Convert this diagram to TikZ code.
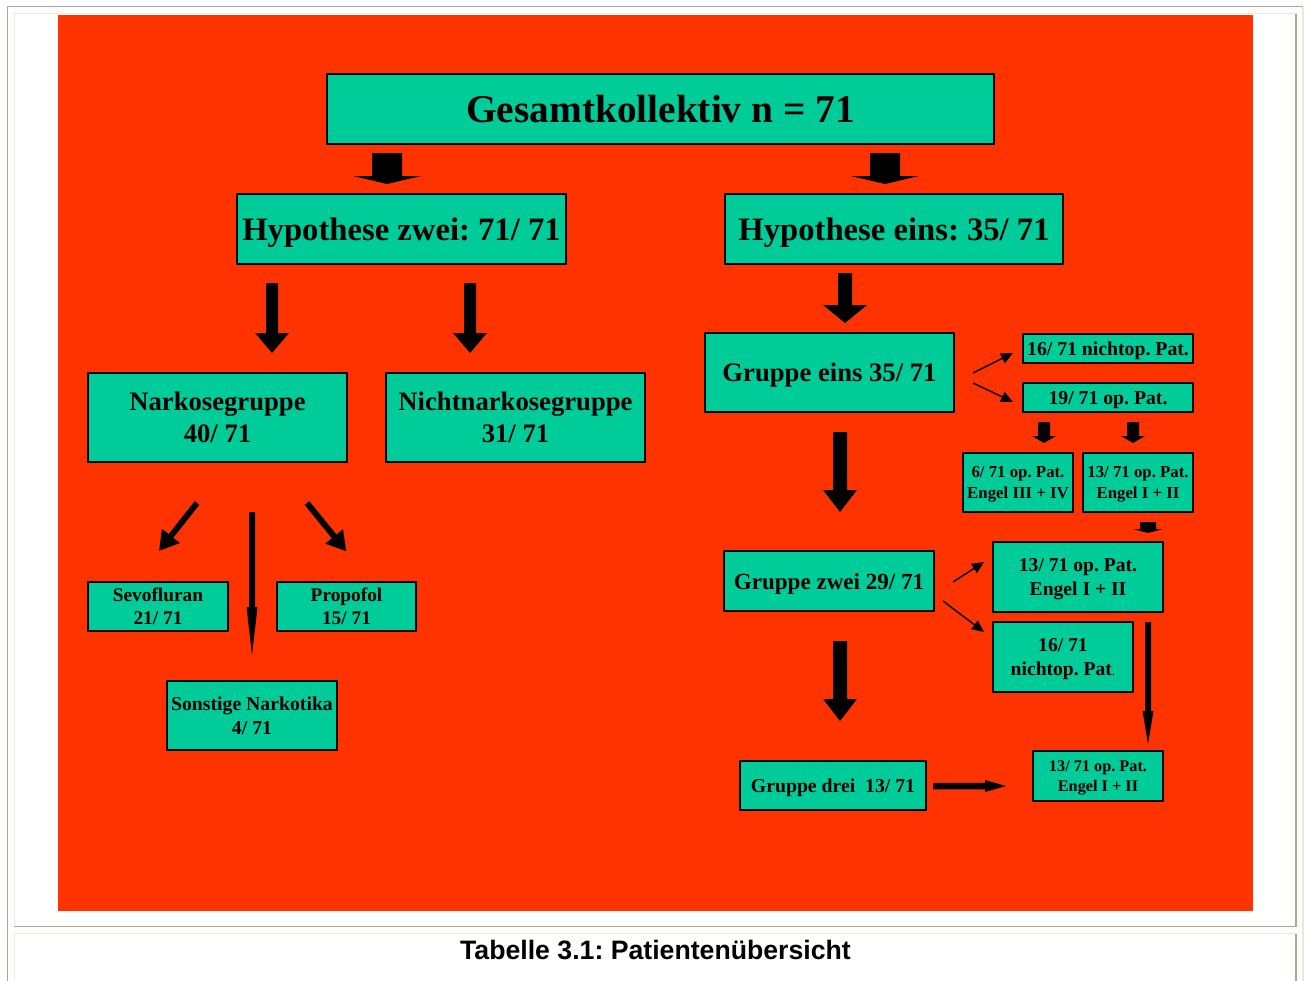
\documentclass[tikz,border=0pt]{standalone}
\usepackage{fontspec}
\setmainfont{Liberation Serif}
\newfontfamily\capfont{Liberation Sans}
\usetikzlibrary{arrows.meta}
\definecolor{bgred}{HTML}{FF3300}
\definecolor{boxteal}{HTML}{00CC99}
\definecolor{frgray}{HTML}{ACA899}
\definecolor{frlight}{HTML}{ECE9D8}
\frenchspacing
\newcommand\fs[2]{\bfseries\fontsize{#1}{#2}\selectfont}
\tikzset{
  box/.style={draw=black, line width=0.9pt, fill=boxteal, inner sep=0pt, align=center, text depth=-3pt},
  thinarr/.style={line width=1.1pt, -{Triangle[length=9pt,width=8pt]}},
  frameg/.style={draw=frgray, line width=1pt},
  framel/.style={draw=frlight, line width=1pt},
  pics/barrow/.style n args={4}{code={
    \fill[black] (0,-#2/2) -- (#1-#4,-#2/2) -- (#1-#4,-#3/2) -- (#1,0) -- (#1-#4,#3/2) -- (#1-#4,#2/2) -- (0,#2/2) -- cycle;
  }}
}
\begin{document}
\begin{tikzpicture}[x=0.75pt,y=-0.75pt]
\useasboundingbox (0,0) rectangle (1306,981);
% table frame
\draw[frameg] (7.5,981) -- (7.5,6.5) -- (1303,6.5);
\draw[framel] (1303,7) -- (1303,981);
\draw[framel] (14.7,927) -- (14.7,13.7) -- (1297,13.7);
\draw[frameg] (1296,13.7) -- (1296,926.5) -- (14,926.5);
\draw[framel] (14.7,981) -- (14.7,933.7) -- (1297,933.7);
\draw[frameg] (1296,934) -- (1296,981);
% red background
\fill[bgred] (58,15) rectangle (1253,911);

% nodes
\node[box, minimum width=500.25pt, minimum height=52.5pt, font=\fs{29.5}{35}] (gesamt) at (660.5,109) {Gesamtkollektiv n = 71};
\node[box, minimum width=246.75pt, minimum height=52.5pt, font=\fs{24.5}{29}] (hyp2) at (401.5,229) {Hypothese zwei: 71/ 71};
\node[box, minimum width=253.5pt, minimum height=52.5pt, font=\fs{24.5}{29}] (hyp1) at (894,229) {Hypothese eins: 35/ 71};
\node[box, minimum width=194.25pt, minimum height=66.75pt, font=\fs{20}{24}] (narko) at (217.5,417.5) {Narkosegruppe\\40/ 71};
\node[box, minimum width=194.25pt, minimum height=66.75pt, font=\fs{20}{24}] (nicht) at (515.5,417.5) {Nichtnarkosegruppe\\31/ 71};
\node[box, minimum width=105pt, minimum height=36.75pt, font=\fs{14.5}{17.5}] (sevo) at (158,606.5) {Sevofluran\\21/ 71};
\node[box, minimum width=104.25pt, minimum height=36.75pt, font=\fs{14.5}{17.5}] (propo) at (346.5,606.5) {Propofol\\15/ 71};
\node[box, minimum width=127.5pt, minimum height=51.75pt, font=\fs{14.8}{17.8}] (sonst) at (252,715.5) {Sonstige Narkotika\\4/ 71};

\node[box, minimum width=186.75pt, minimum height=59.25pt, font=\fs{20}{24}] (gr1) at (829.5,372.5) {Gruppe eins 35/ 71};
\node[box, minimum width=127.5pt, minimum height=21.75pt, font=\fs{14.8}{17.8}] (n16a) at (1108,348.5) {16/ 71 nichtop. Pat.};
\node[box, minimum width=127.5pt, minimum height=21.75pt, font=\fs{14.8}{17.8}] (op19) at (1108,397.5) {19/ 71 op. Pat.};
\node[box, minimum width=82.5pt, minimum height=44.25pt, font=\fs{12.6}{15.1}] (e34) at (1018,482.5) {6/ 71 op. Pat.\\Engel III + IV};
\node[box, minimum width=82.5pt, minimum height=44.25pt, font=\fs{12.6}{15.1}] (e12a) at (1138,482.5) {13/ 71 op. Pat.\\Engel I + II};

\node[box, minimum width=157.5pt, minimum height=45pt, font=\fs{17.3}{20.8}] (gr2) at (829,581) {Gruppe zwei 29/ 71};
\node[box, minimum width=127.5pt, minimum height=52.5pt, font=\fs{14.7}{17.6}] (e12b) at (1078,577) {13/ 71 op. Pat.\\Engel I + II};
\node[box, minimum width=105pt, minimum height=52.5pt, font=\fs{14.7}{17.6}] (n16b) at (1063,657) {16/ 71\\nichtop. Pat{\mdseries\fontsize{10}{12}\selectfont.}};

\node[box, minimum width=139.5pt, minimum height=36.75pt, font=\fs{14.8}{17.8}] (gr3) at (833,785.5) {Gruppe drei\ \ 13/ 71};
\node[box, minimum width=97.5pt, minimum height=37.5pt, font=\fs{12.2}{14.6}] (e12c) at (1098,776) {13/ 71 op. Pat.\\Engel I + II};

% block arrows
\coordinate (a1) at (387,153);
\coordinate (a2) at (885,153);
\coordinate (a3) at (272,283);
\coordinate (a4) at (470,283);
\coordinate (a5) at (845,273);
\coordinate (a6) at (840,432);
\coordinate (a7) at (840,641);
\coordinate (a8) at (1044,422);
\coordinate (a9) at (1133,422);
\coordinate (a10) at (1148,522);
\coordinate (a11) at (1148,622);
\coordinate (a12) at (933,786);
\coordinate (a13) at (252,512);
\coordinate (a14) at (197,503);
\coordinate (a15) at (307,503);
\pic[rotate=-90] at (a1) {barrow={31}{30}{68}{8}};
\pic[rotate=-90] at (a2) {barrow={31}{30}{68}{8}};
\pic[rotate=-90] at (a3) {barrow={70}{12}{34}{20}};
\pic[rotate=-90] at (a4) {barrow={70}{12}{34}{20}};
\pic[rotate=-90] at (a5) {barrow={50}{14}{44}{18}};
\pic[rotate=-90] at (a6) {barrow={80}{14}{34}{22}};
\pic[rotate=-90] at (a7) {barrow={80}{14}{34}{22}};
\pic[rotate=-90] at (a8) {barrow={21}{12}{24}{7}};
\pic[rotate=-90] at (a9) {barrow={21}{12}{24}{7}};
\pic[rotate=-90] at (a10) {barrow={11}{16}{30}{4}};
\pic[rotate=-90] at (a11) {barrow={122}{6}{11}{33}};
\pic at (a12) {barrow={73}{6.5}{12}{21}};
\pic[rotate=-90] at (a13) {barrow={143}{6}{11}{48}};
\pic[rotate=-128.4] at (a14) {barrow={61}{6}{23}{19}};
\pic[rotate=-50.9] at (a15) {barrow={62}{6}{23}{19}};

% thin arrows
\coordinate (t1s) at (973,373); \coordinate (t1e) at (1013,353);
\coordinate (t2s) at (973,383); \coordinate (t2e) at (1013,402);
\coordinate (t3s) at (953,582); \coordinate (t3e) at (984,562);
\coordinate (t4s) at (943,601); \coordinate (t4e) at (984,632);
\draw[thinarr] (t1s) -- (t1e);
\draw[thinarr] (t2s) -- (t2e);
\draw[thinarr] (t3s) -- (t3e);
\draw[thinarr] (t4s) -- (t4e);

% caption
\node[font=\capfont\bfseries\fontsize{20}{24}\selectfont] (cap) at (655.5,950) {Tabelle 3.1: Patientenübersicht};
\end{tikzpicture}
\end{document}
